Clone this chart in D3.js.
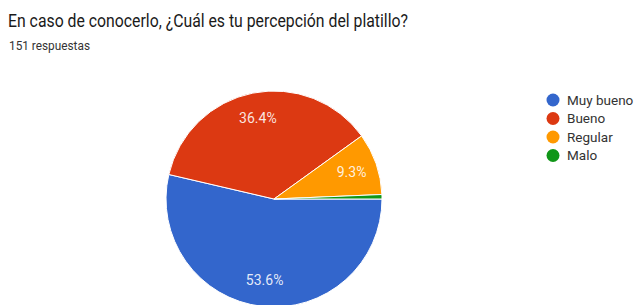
<!DOCTYPE html>
<html>
<head>
<meta charset="utf-8">
<script src="https://cdn.jsdelivr.net/npm/d3@7"></script>
<style>
  body { margin: 0; background: #fff; }
  text { font-family: Roboto, "Noto Sans", sans-serif; }
</style>
</head>
<body>
<svg id="chart" width="639" height="305"></svg>
<script>
// data
var categories = ["Muy bueno", "Bueno", "Regular", "Malo"];
var counts = [81, 55, 14, 1];
var percentLabels = ["53.6%", "36.4%", "9.3%", ""];
var colors = ["#3366cc", "#dc3912", "#ff9900", "#109618"];
var title = "En caso de conocerlo, ¿Cuál es tu percepción del platillo?";
var subtitle = "151 respuestas";

var svg = d3.select("#chart");

svg.append("text")
    .attr("x", 8)
    .attr("y", 27)
    .attr("font-size", 18)
    .attr("fill", "#1a1a1a")
    .attr("textLength", 400)
    .attr("lengthAdjust", "spacingAndGlyphs")
    .text(title);

svg.append("text")
    .attr("x", 9)
    .attr("y", 50)
    .attr("font-size", 12.5)
    .attr("fill", "#333")
    .attr("textLength", 81)
    .attr("lengthAdjust", "spacingAndGlyphs")
    .text(subtitle);

// pie, starts at 3 o'clock and goes clockwise
var cx = 274, cy = 199, r = 108;
var slices = categories.map(function(c, i) {
    return {name: c, value: counts[i], label: percentLabels[i], color: colors[i]};
});

var pie = d3.pie()
    .value(function(d) { return d.value; })
    .sort(null)
    .startAngle(Math.PI / 2)
    .endAngle(Math.PI / 2 + 2 * Math.PI);

var arc = d3.arc().innerRadius(0).outerRadius(r);
var labelArc = d3.arc().innerRadius(r * 0.76).outerRadius(r * 0.76);

var g = svg.append("g").attr("transform", "translate(" + cx + "," + cy + ")");

g.selectAll("path")
    .data(pie(slices))
    .enter().append("path")
    .attr("d", arc)
    .attr("fill", function(d) { return d.data.color; })
    .attr("stroke", "#fff")
    .attr("stroke-width", 1);

g.selectAll("text.pct")
    .data(pie(slices))
    .enter().append("text")
    .attr("class", "pct")
    .attr("transform", function(d) { return "translate(" + labelArc.centroid(d) + ")"; })
    .attr("text-anchor", "middle")
    .attr("dy", "0.35em")
    .attr("font-size", 14)
    .attr("fill", "#fff")
    .attr("fill-opacity", 0.88)
    .text(function(d) { return d.data.label; });

// legend
var legend = svg.append("g").attr("transform", "translate(553,100)");
var item = legend.selectAll("g")
    .data(slices)
    .enter().append("g")
    .attr("transform", function(d, i) { return "translate(0," + (i * 18.5) + ")"; });

item.append("circle")
    .attr("r", 6.5)
    .attr("fill", function(d) { return d.color; });

item.append("text")
    .attr("x", 14)
    .attr("dy", "0.35em")
    .attr("font-size", 13.5)
    .attr("fill", "#333")
    .text(function(d) { return d.name; });
</script>
</body>
</html>
